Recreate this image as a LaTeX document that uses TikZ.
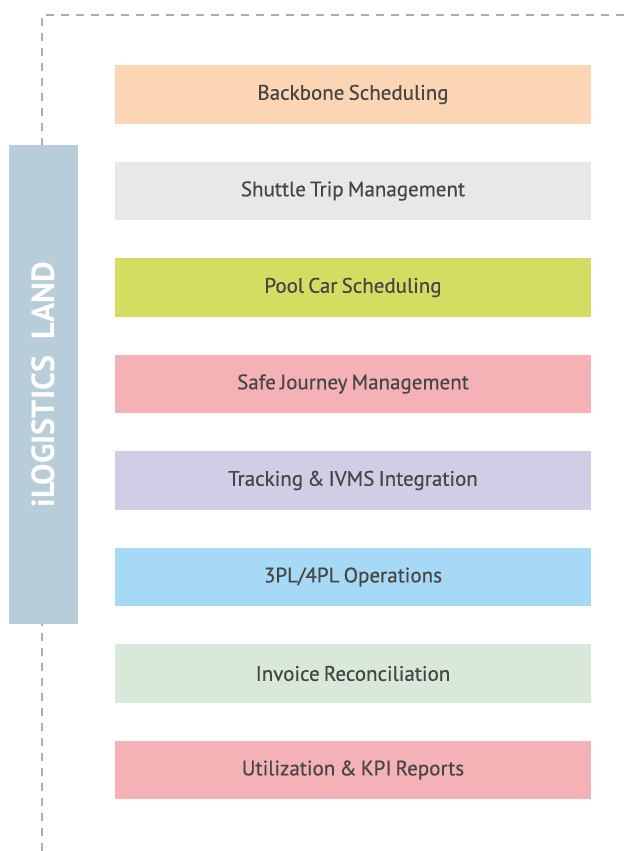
\documentclass[tikz,border=0pt]{standalone}
\usepackage{fontspec}
\setmainfont{PT Sans}
\newfontfamily\modfont[FakeBold=0.35, WordSpace=0.75]{PT Sans}
\usetikzlibrary{positioning}

\definecolor{peach}{HTML}{FCD5B4}
\definecolor{lightgrey}{HTML}{E8E8E8}
\definecolor{lime}{HTML}{D4DC62}
\definecolor{rose}{HTML}{F4B2B6}
\definecolor{lavender}{HTML}{D2CDE6}
\definecolor{sky}{HTML}{A6D9F5}
\definecolor{mint}{HTML}{D9E9D9}
\definecolor{steel}{HTML}{B8CDDA}
\definecolor{frame}{HTML}{ADADAD}
\definecolor{ink}{HTML}{454545}

\begin{document}
\begin{tikzpicture}[
  x=1pt, y=1pt,
  node distance=38pt,
  module/.style={
    rectangle, minimum width=476pt, minimum height=58.5pt,
    inner sep=0pt, outer sep=0pt, text=ink,
    font=\modfont\fontsize{21}{24}\selectfont
  },
  sidebar/.style={
    rectangle, fill=steel, minimum width=69pt, minimum height=479pt,
    inner sep=0pt, outer sep=0pt, text=white,
    font=\bfseries\fontsize{32}{35}\selectfont
  },
  border/.style={draw=frame, line width=2.5pt, dash pattern=on 8pt off 7pt}
]
  \useasboundingbox (0,0) rectangle (631,-851);

  % Dashed frame
  \coordinate (fb) at (42,-851);
  \coordinate (fc) at (42,-15);
  \coordinate (fr) at (631,-15);
  \draw[border] (fb) -- (fc) -- (fr);

  % Side label
  \node[sidebar] (land) at (43.5,-384.5) {\rotatebox{90}{iLOGISTICS\ \ LAND}};

  % Module boxes
  \node[module, fill=peach] (m1) at (353,-94.5) {Backbone Scheduling};
  \node[module, fill=lightgrey, below=of m1] (m2) {Shuttle Trip Management};
  \node[module, fill=lime, below=of m2] (m3) {Pool Car Scheduling};
  \node[module, fill=rose, below=of m3] (m4) {Safe Journey Management};
  \node[module, fill=lavender, below=of m4] (m5) {Tracking \& IVMS Integration};
  \node[module, fill=sky, below=of m5] (m6) {3PL/4PL Operations};
  \node[module, fill=mint, below=of m6] (m7) {Invoice Reconciliation};
  \node[module, fill=rose, below=of m7] (m8) {Utilization \& KPI Reports};
\end{tikzpicture}
\end{document}
